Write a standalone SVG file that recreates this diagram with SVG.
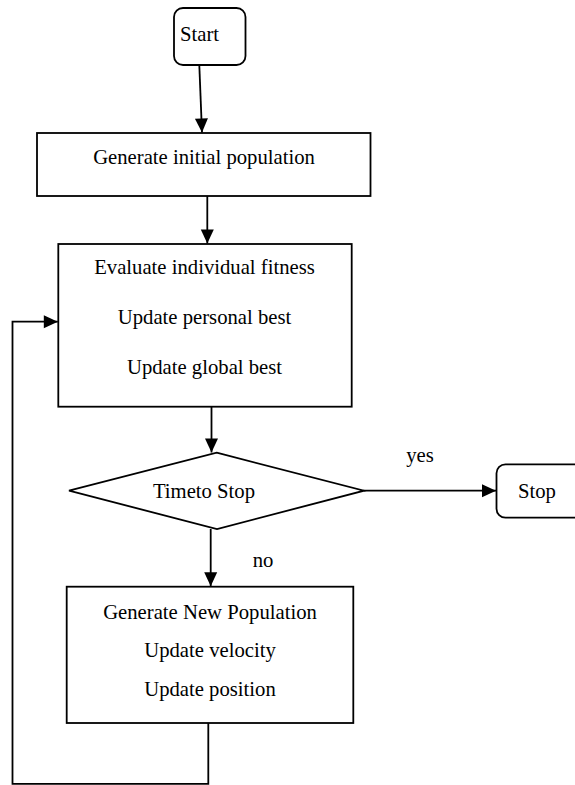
<svg xmlns="http://www.w3.org/2000/svg" width="575" height="785" viewBox="0 0 575 785">
<style>
.box{fill:#fff;stroke:#000;stroke-width:1.8}
.ln{fill:none;stroke:#000;stroke-width:1.8}
text{font-family:"Liberation Serif","Times New Roman",serif;font-size:20.7px;fill:#000;text-anchor:middle;dominant-baseline:central}
</style>
<defs>
<marker id="ah" markerUnits="userSpaceOnUse" markerWidth="16" markerHeight="16" viewBox="0 0 16 16" refX="15" refY="8" orient="auto">
<path d="M1,1.5 L15,8 L1,14.5 Z" fill="#000"/>
</marker>
</defs>
<rect width="575" height="785" fill="#fff"/>
<g id="start">
<rect class="box" x="174" y="8" width="71.5" height="57" rx="9"/>
<text x="199.5" y="33.5">Start</text>
</g>
<g id="init">
<rect class="box" x="37" y="133" width="333.5" height="63"/>
<text x="204" y="156.5">Generate initial population</text>
</g>
<g id="evaluate">
<rect class="box" x="58.3" y="244" width="293.4" height="162.7"/>
<text x="204.5" y="266.7">Evaluate individual fitness</text>
<text x="204.5" y="316.7">Update personal best</text>
<text x="204.5" y="366.7">Update global best</text>
</g>
<g id="decision">
<polygon class="box" points="216.7,452.7 364,490.7 217,529 69,490.7"/>
<text x="204" y="490.7">Timeto Stop</text>
</g>
<g id="stop">
<rect class="box" x="496.5" y="464.3" width="90" height="53.4" rx="9"/>
<text x="537" y="490.7">Stop</text>
</g>
<g id="newpop">
<rect class="box" x="66.7" y="586.7" width="286.6" height="136.3"/>
<text x="210" y="611.7">Generate New Population</text>
<text x="210" y="650">Update velocity</text>
<text x="210" y="689.3">Update position</text>
</g>
<g id="connectors">
<line class="ln" x1="199.3" y1="65" x2="202" y2="132.5" marker-end="url(#ah)"/>
<line class="ln" x1="207.3" y1="196" x2="207.3" y2="243.5" marker-end="url(#ah)"/>
<line class="ln" x1="211.5" y1="406.7" x2="211.5" y2="452.5" marker-end="url(#ah)"/>
<line class="ln" x1="364" y1="490.7" x2="496" y2="490.7" marker-end="url(#ah)"/>
<text x="420" y="455">yes</text>
<line class="ln" x1="210.7" y1="529" x2="210.7" y2="586.3" marker-end="url(#ah)"/>
<text x="263" y="560">no</text>
<polyline class="ln" points="208.3,723 208.3,783.8 12.5,783.8 12.5,321.7 57.8,321.7" marker-end="url(#ah)"/>
</g>
</svg>
